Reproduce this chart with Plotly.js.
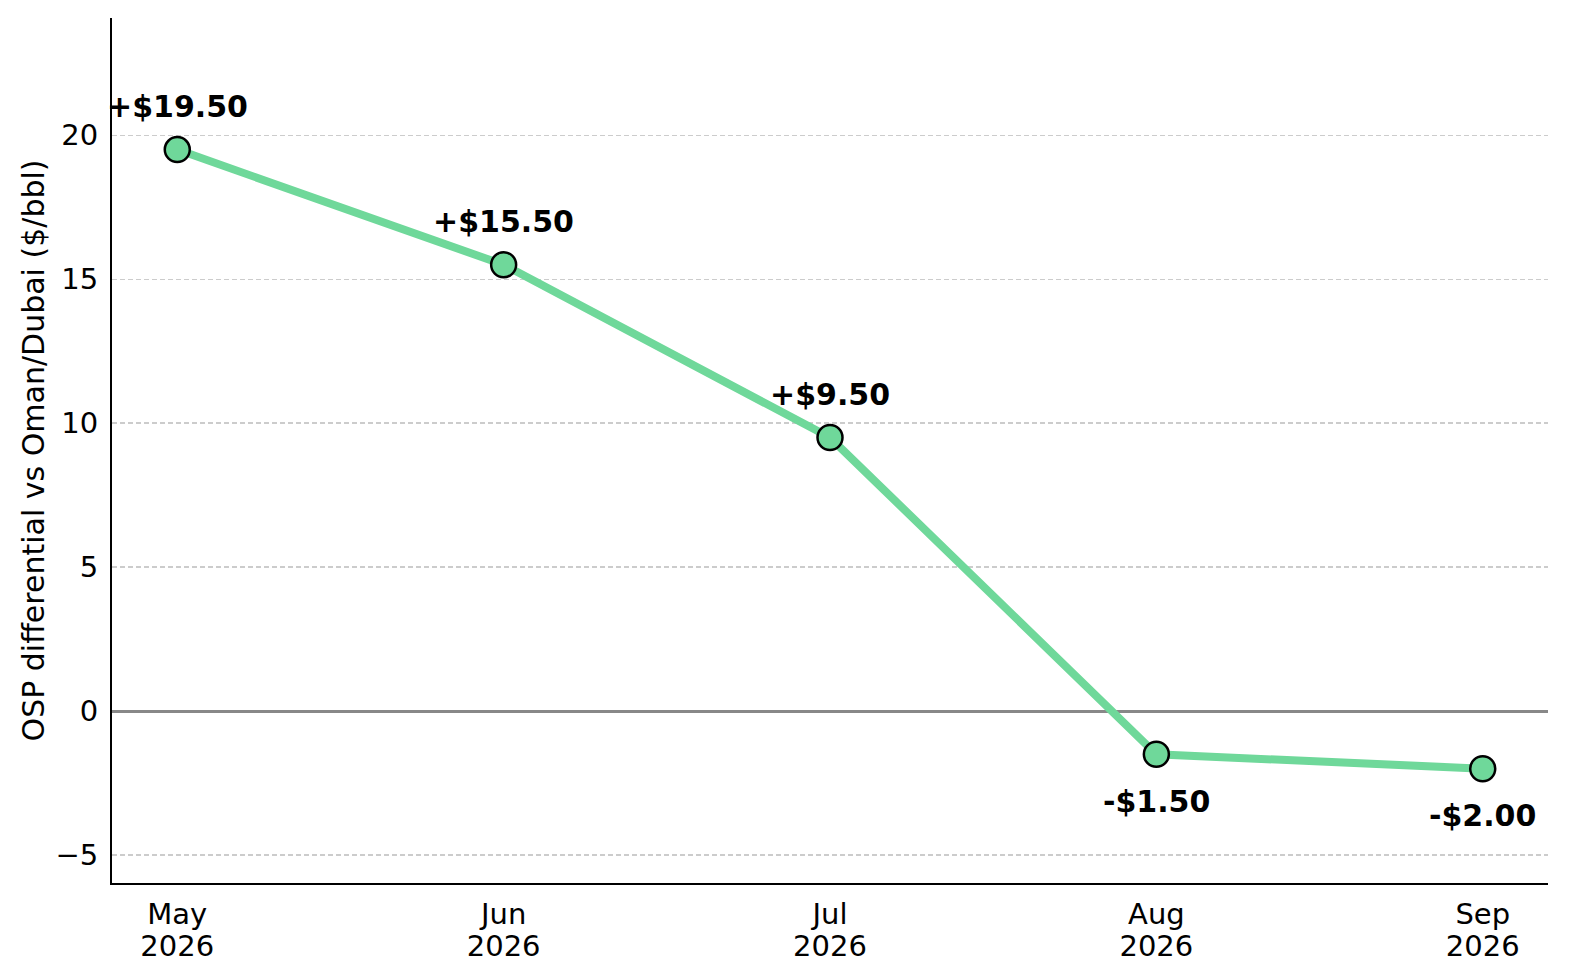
<!DOCTYPE html>
<html>
<head>
<meta charset="utf-8">
<script src="https://cdn.plot.ly/plotly-3.0.1.min.js"></script>
<style>
  html, body { margin: 0; padding: 0; background: #fff; overflow: hidden; }
  #chart { width: 1580px; height: 980px; }
</style>
</head>
<body>
<div id="chart"></div>
<script>
var months = ["May", "Jun", "Jul", "Aug", "Sep"];
var years = ["2026", "2026", "2026", "2026", "2026"];
var osp = [19.5, 15.5, 9.5, -1.5, -2.0];
var labels = ["+$19.50", "+$15.50", "+$9.50", "-$1.50", "-$2.00"];

var idx = months.map(function (m, i) { return i; });
var green = "#6fd89a";

var line = {
  x: idx,
  y: osp,
  type: "scatter",
  mode: "lines+markers",
  line: { color: green, width: 8 },
  marker: { size: 25, color: green, line: { color: "#000", width: 2.5 } },
  hoverinfo: "skip"
};

// invisible copy so the year row axis gets drawn
var yearRow = {
  x: idx,
  y: osp,
  xaxis: "x2",
  type: "scatter",
  mode: "markers",
  marker: { opacity: 0 },
  hoverinfo: "skip"
};

// value labels: above for positives, below for negatives
var notes = osp.map(function (v, i) {
  return {
    x: i,
    y: v,
    text: "<b>" + labels[i] + "</b>",
    showarrow: false,
    yshift: v >= 0 ? 43 : -47,
    font: { family: "DejaVu Sans", size: 30, color: "#000" }
  };
});

var layout = {
  width: 1580,
  height: 980,
  margin: { l: 112, r: 32, t: 18, b: 97 },
  paper_bgcolor: "#fff",
  plot_bgcolor: "#fff",
  font: { family: "DejaVu Sans", size: 29, color: "#000" },
  showlegend: false,
  xaxis: {
    range: [-0.2, 4.2],
    tickvals: idx,
    ticktext: months,
    showgrid: false,
    zeroline: false,
    showline: true,
    linecolor: "#000",
    linewidth: 2,
    ticks: "",
    ticklabelstandoff: 4,
    tickfont: { size: 29 }
  },
  xaxis2: {
    overlaying: "x",
    side: "bottom",
    range: [-0.2, 4.2],
    tickvals: idx,
    ticktext: years,
    showgrid: false,
    zeroline: false,
    showline: false,
    ticks: "",
    ticklabelstandoff: 43,
    tickfont: { size: 29 }
  },
  yaxis: {
    range: [-5.97, 24.07],
    tickvals: [-5, 0, 5, 10, 15, 20],
    ticktext: ["\u22125", "0", "5", "10", "15", "20"],
    showgrid: true,
    gridcolor: "#cccccc",
    griddash: "5px,3px",
    gridwidth: 1.3,
    zeroline: true,
    zerolinecolor: "#888888",
    zerolinewidth: 3,
    showline: true,
    linecolor: "#000",
    linewidth: 2,
    ticks: "",
    ticklabelstandoff: 6,
    tickfont: { size: 29 },
    title: { text: "OSP differential vs Oman/Dubai ($/bbl)", font: { size: 30 }, standoff: 2 }
  },
  annotations: notes
};

Plotly.newPlot("chart", [line, yearRow], layout, { displayModeBar: false, staticPlot: true });
</script>
</body>
</html>
